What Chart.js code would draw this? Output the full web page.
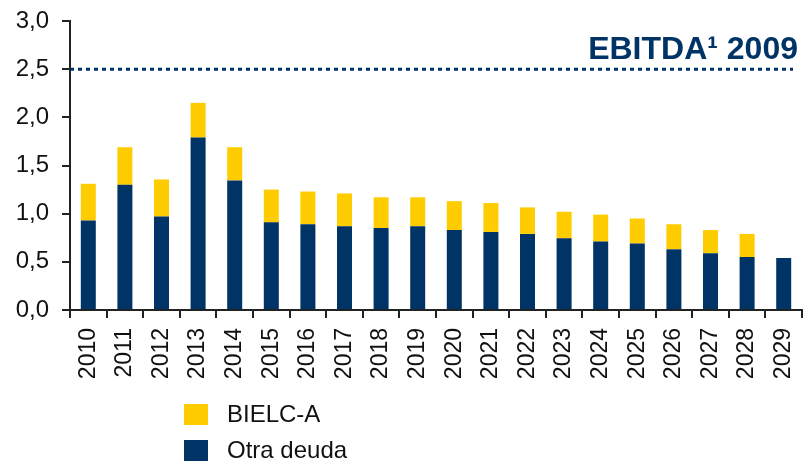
<!DOCTYPE html>
<html>
<head>
<meta charset="utf-8">
<script src="https://cdn.jsdelivr.net/npm/chart.js@4/dist/chart.umd.min.js"></script>
<style>
  html, body { margin: 0; padding: 0; background: #ffffff; }
  #wrap { width: 803px; height: 461px; position: relative; }
</style>
</head>
<body>
<div id="wrap"><canvas id="c" width="803" height="461"></canvas></div>
<script>
const years = ['2010','2011','2012','2013','2014','2015','2016','2017','2018','2019','2020','2021','2022','2023','2024','2025','2026','2027','2028','2029'];
const otraDeuda = [0.93,1.30,0.97,1.79,1.345,0.91,0.89,0.87,0.85,0.87,0.83,0.81,0.79,0.745,0.71,0.69,0.63,0.59,0.55,0.54];
const bielcA = [0.38,0.39,0.385,0.36,0.345,0.34,0.34,0.34,0.32,0.30,0.30,0.30,0.275,0.275,0.28,0.26,0.26,0.24,0.24,0];
const seriesNames = ['BIELC-A','Otra deuda'];
const ebitda2009 = 2.5;
const ebitdaLabel = 'EBITDA\u00B9 2009';

const NAVY = '#003366';
const YELLOW = '#FFCC00';
const FONT = '"Liberation Sans", Arial, Helvetica, sans-serif';

const refLinePlugin = {
  id: 'refLine',
  afterDatasetsDraw(chart) {
    const {ctx, chartArea, scales} = chart;
    const y = scales.y.getPixelForValue(ebitda2009);
    ctx.save();
    ctx.strokeStyle = NAVY;
    ctx.lineWidth = 3;
    ctx.setLineDash([4, 4]);
    ctx.beginPath();
    ctx.moveTo(chartArea.left, y);
    ctx.lineTo(chartArea.right - 9, y);
    ctx.stroke();
    ctx.setLineDash([]);
    ctx.fillStyle = NAVY;
    ctx.font = 'bold 32px ' + FONT;
    ctx.textAlign = 'right';
    ctx.textBaseline = 'alphabetic';
    ctx.fillText(ebitdaLabel, chartArea.right - 4, y - 10);
    ctx.restore();
  }
};

const legendPlugin = {
  id: 'customLegend',
  afterDraw(chart) {
    const {ctx} = chart;
    const items = [
      {label: seriesNames[0], color: YELLOW},
      {label: seriesNames[1], color: NAVY}
    ];
    ctx.save();
    ctx.font = '24px ' + FONT;
    ctx.textBaseline = 'middle';
    ctx.textAlign = 'left';
    items.forEach((it, i) => {
      const top = 404 + i * 36;
      ctx.fillStyle = it.color;
      ctx.fillRect(184, top, 24, 21);
      ctx.fillStyle = '#111111';
      ctx.fillText(it.label, 227, top + 11);
    });
    ctx.restore();
  }
};

new Chart(document.getElementById('c'), {
  type: 'bar',
  data: {
    labels: years,
    datasets: [
      { label: seriesNames[1], data: otraDeuda, backgroundColor: NAVY, stack: 's' },
      { label: seriesNames[0], data: bielcA, backgroundColor: YELLOW, stack: 's' }
    ]
  },
  options: {
    responsive: false,
    animation: false,
    devicePixelRatio: 1,
    layout: { padding: { top: 21, right: 1, bottom: 0, left: 0 } },
    datasets: { bar: { categoryPercentage: 1.0, barPercentage: 0.41 } },
    plugins: { legend: { display: false }, tooltip: { enabled: false } },
    scales: {
      x: {
        stacked: true,
        afterFit(scale) { scale.height = 151; scale.paddingLeft = 0; scale.paddingRight = 0; },
        grid: { display: true, drawOnChartArea: false, drawTicks: true, tickLength: 8, color: '#222222', lineWidth: 2, offset: true },
        border: { display: true, color: '#222222', width: 2 },
        ticks: { color: '#111111', font: { family: FONT, size: 23 }, minRotation: 90, maxRotation: 90, padding: 10, autoSkip: false }
      },
      y: {
        stacked: true,
        min: 0, max: 3,
        afterFit(scale) { scale.width = 70; scale.paddingTop = 0; scale.paddingBottom = 0; },
        grid: { display: true, drawOnChartArea: false, drawTicks: true, tickLength: 8, color: '#222222', lineWidth: 2 },
        border: { display: true, color: '#222222', width: 2 },
        ticks: {
          stepSize: 0.5, color: '#111111', padding: 13,
          font: { family: FONT, size: 24 },
          callback: (v) => v.toFixed(1).replace('.', ',')
        }
      }
    }
  },
  plugins: [refLinePlugin, legendPlugin]
});
</script>
</body>
</html>
